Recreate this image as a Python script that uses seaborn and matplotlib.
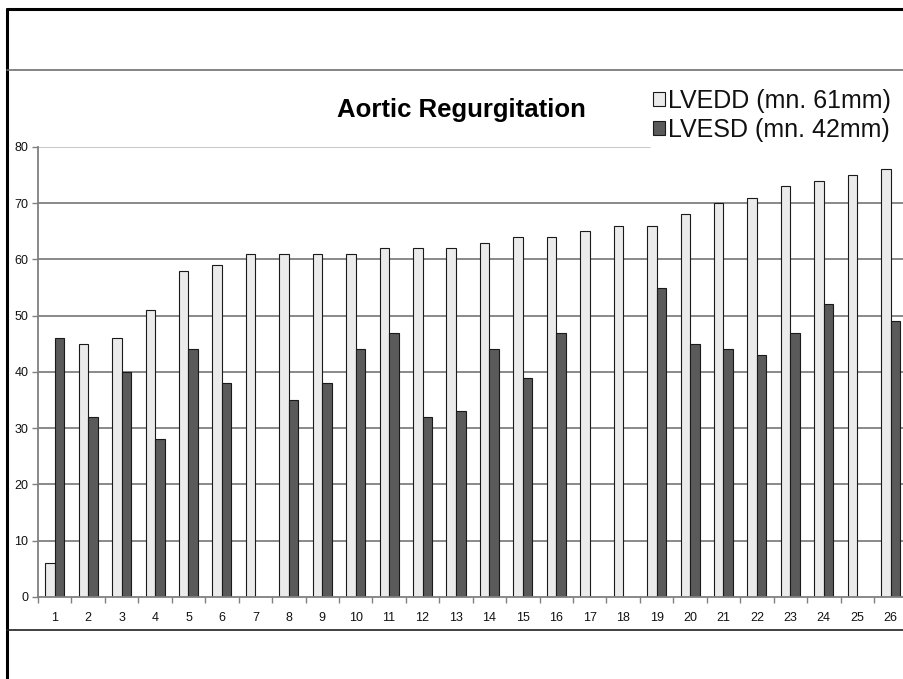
import pandas as pd
import numpy as np
from matplotlib import pyplot as plt
from matplotlib.lines import Line2D
from matplotlib.ticker import FixedLocator
import seaborn as sns

# Aortic regurgitation: LV end-diastolic / end-systolic diameters per patient
patients = [str(i) for i in range(1, 27)]
lvedd = [6, 45, 46, 51, 58, 59, 61, 61, 61, 61, 62, 62, 62, 63, 64, 64, 65, 66,
         66, 68, 70, 71, 73, 74, 75, 76]
lvesd = [46, 32, 40, 28, 44, 38, np.nan, 35, 38, 44, 47, 32, 33, 44, 39, 47,
         np.nan, np.nan, 55, 45, 44, 43, 47, 52, np.nan, 49]
series_names = ["LVEDD (mn. 61mm)", "LVESD (mn. 42mm)"]
y_ticks = list(range(0, 81, 10))

n = len(patients)
df = pd.DataFrame({
    "patient": patients * 2,
    "measure": [series_names[0]] * n + [series_names[1]] * n,
    "value": lvedd + lvesd,
})

sns.set_style("white")
plt.rcParams["font.family"] = ["Liberation Sans", "DejaVu Sans"]

fig = plt.figure(figsize=(9.04, 6.79), dpi=100)
ax = fig.add_axes([0.04204, 0.12077, 0.9617, 0.66274])

sns.barplot(data=df, x="patient", y="value", hue="measure", hue_order=series_names,
            order=patients, palette={series_names[0]: "#EBEBEB", series_names[1]: "#5A5A5A"},
            saturation=1, width=0.57, errorbar=None, edgecolor="#1a1a1a",
            linewidth=0.8, ax=ax, zorder=3)

handles, labels = ax.get_legend_handles_labels()
ax.get_legend().remove()

ax.set_xlim(-0.5, n - 0.5)
ax.set_ylim(0, 80)
ax.set_xlabel("")
ax.set_ylabel("")

# gridlines
for v in y_ticks[1:-1]:
    ax.axhline(v, color="#808080", lw=1.3, zorder=1)
ax.axhline(80, xmax=0.704, color="#c4c4c4", lw=1.3, zorder=1)

for s in ["top", "right"]:
    ax.spines[s].set_visible(False)
for s in ["left", "bottom"]:
    ax.spines[s].set_color("#808080")
    ax.spines[s].set_linewidth(1.3)
ax.spines["bottom"].set_zorder(4)

ax.yaxis.set_major_locator(FixedLocator(y_ticks))
ax.tick_params(axis="y", length=4, width=1, color="#808080", labelsize=9, pad=3,
               labelcolor="#111111", left=True)
ax.xaxis.set_minor_locator(FixedLocator(np.arange(-0.5, n, 1.0)))
ax.tick_params(axis="x", which="major", length=0, labelsize=9, pad=11, labelcolor="#111111")
ax.tick_params(axis="x", which="minor", length=4, width=1, color="#808080", bottom=True)

# slide frame lines
fig.add_artist(Line2D([0.0077, 1.0], [0.9867, 0.9867], color="black", lw=2.2))
fig.add_artist(Line2D([0.0077, 0.0077], [0.0, 0.9867], color="black", lw=2.2))
fig.add_artist(Line2D([0.0077, 1.0], [0.8969, 0.8969], color="#707070", lw=1.2))
fig.add_artist(Line2D([0.0077, 1.0], [0.0722, 0.0722], color="#202020", lw=1.2))

fig.text(0.5105, 0.838, "Aortic Regurgitation", ha="center", va="center",
         fontsize=18.5, fontweight="bold", color="black")

leg = fig.legend(handles, labels, loc="upper left", bbox_to_anchor=(0.708, 0.888),
                 frameon=False, fontsize=18, handlelength=0.48, handleheight=0.48,
                 handletextpad=0.15, labelspacing=0.2, borderpad=0.0)
for t in leg.get_texts():
    t.set_color("#111111")

fig.savefig("out.png", dpi=100)
